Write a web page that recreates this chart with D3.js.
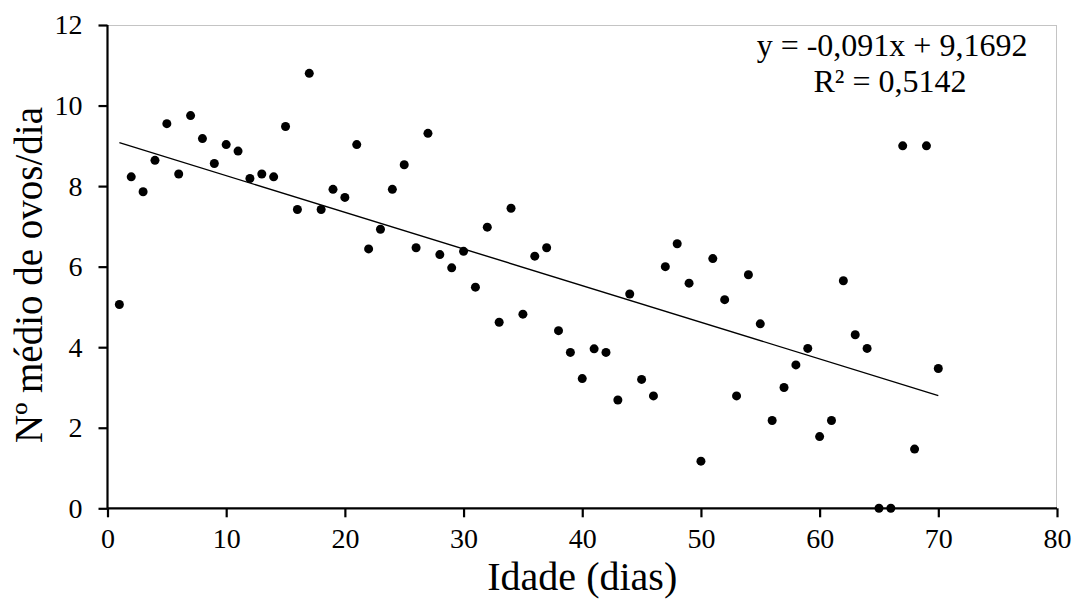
<!DOCTYPE html>
<html>
<head>
<meta charset="utf-8">
<script src="https://cdn.jsdelivr.net/npm/d3@7"></script>
<style>
  html, body { margin: 0; padding: 0; background: #fff; }
  svg { display: block; }
</style>
</head>
<body>
<svg id="chart" width="1075" height="601"></svg>
<script>
// Data: age in days and mean number of eggs per day
const days = [1,2,3,4,5,6,7,8,9,10,11,12,13,14,15,16,17,18,19,20,21,22,23,24,25,26,27,28,29,30,
  31,32,33,34,35,36,37,38,39,40,41,42,43,44,45,46,47,48,49,50,51,52,53,54,55,56,57,58,59,60,
  61,62,63,64,65,66,67,68,69,70];
const eggs = [5.06,8.23,7.86,8.64,9.55,8.30,9.75,9.18,8.56,9.03,8.87,8.19,8.30,8.23,9.48,7.42,10.80,7.42,7.92,7.72,
  9.03,6.44,6.93,7.92,8.53,6.47,9.31,6.30,5.97,6.38,5.49,6.98,4.62,7.45,4.82,6.26,6.47,4.41,3.87,3.22,
  3.96,3.87,2.69,5.32,3.20,2.79,6.00,6.57,5.59,1.17,6.20,5.18,2.79,5.80,4.58,2.18,3.00,3.56,3.97,1.78,
  2.18,5.65,4.31,3.97,0,0,9.00,1.47,9.00,3.47];
const xTicks = [0,10,20,30,40,50,60,70,80];
const yTicks = [0,2,4,6,8,10,12];
const slope = -0.091, intercept = 9.1692;
const trendX = [1, 70];
const eqLines = ["y = -0,091x + 9,1692", "R² = 0,5142"];
const xTitle = "Idade (dias)";
const yTitle = "Nº médio de ovos/dia";

const FONT = "'Liberation Serif', 'Times New Roman', Tinos, 'DejaVu Serif', serif";
const svg = d3.select("#chart");
const pLeft = 107.5, pRight = 1057, pTop = 25, pBottom = 508.3;

const x = d3.scaleLinear().domain([0, 80]).range([pLeft, pRight]);
const y = d3.scaleLinear().domain([0, 12]).range([pBottom, pTop]);

// light grey top/right frame
svg.append("line").attr("x1", pLeft).attr("x2", pRight).attr("y1", pTop + 0.5).attr("y2", pTop + 0.5)
  .attr("stroke", "#c4c4c4").attr("stroke-width", 1);
svg.append("line").attr("x1", pRight - 0.5).attr("x2", pRight - 0.5).attr("y1", pTop).attr("y2", pBottom)
  .attr("stroke", "#c4c4c4").attr("stroke-width", 1);

// axes
const xAxis = svg.append("g").attr("transform", `translate(0,${pBottom})`)
  .call(d3.axisBottom(x).tickValues(xTicks).tickSize(9).tickPadding(11).tickFormat(d3.format("d")));
const yAxis = svg.append("g").attr("transform", `translate(${pLeft},0)`)
  .call(d3.axisLeft(y).tickValues(yTicks).tickSize(9).tickPadding(16).tickFormat(d3.format("d")));
[xAxis, yAxis].forEach(g => {
  g.attr("font-family", FONT).attr("font-size", 28);
  g.select(".domain").attr("stroke", "#000").attr("stroke-width", 2.2);
  g.selectAll(".tick line").attr("stroke", "#000").attr("stroke-width", 2.2);
  g.selectAll(".tick text").style("font-family", FONT).style("font-size", "28px").attr("fill", "#000");
});
xAxis.select(".domain").attr("d", `M${pLeft},0H${pRight}`);
yAxis.select(".domain").attr("d", `M0,${pBottom}V${pTop}`);

// trend line
svg.append("line")
  .attr("x1", x(trendX[0])).attr("y1", y(slope * trendX[0] + intercept))
  .attr("x2", x(trendX[1])).attr("y2", y(slope * trendX[1] + intercept))
  .attr("stroke", "#000").attr("stroke-width", 1.4);

// points
svg.append("g").selectAll("circle").data(days).join("circle")
  .attr("cx", d => x(d)).attr("cy", (d, i) => y(eggs[i])).attr("r", 4.5).attr("fill", "#000");

// equation
svg.append("text").attr("x", 892).attr("y", 56).attr("text-anchor", "middle")
  .style("font-family", FONT).style("font-size", "32px").text(eqLines[0]);
svg.append("text").attr("x", 890).attr("y", 92).attr("text-anchor", "middle")
  .style("font-family", FONT).style("font-size", "32px").text(eqLines[1]);

// axis titles
svg.append("text").attr("x", (pLeft + pRight) / 2).attr("y", 590).attr("text-anchor", "middle")
  .style("font-family", FONT).style("font-size", "40px").text(xTitle);
svg.append("text").attr("transform", "translate(42,275) rotate(-90)").attr("text-anchor", "middle")
  .style("font-family", FONT).style("font-size", "39px").text(yTitle);
</script>
</body>
</html>
